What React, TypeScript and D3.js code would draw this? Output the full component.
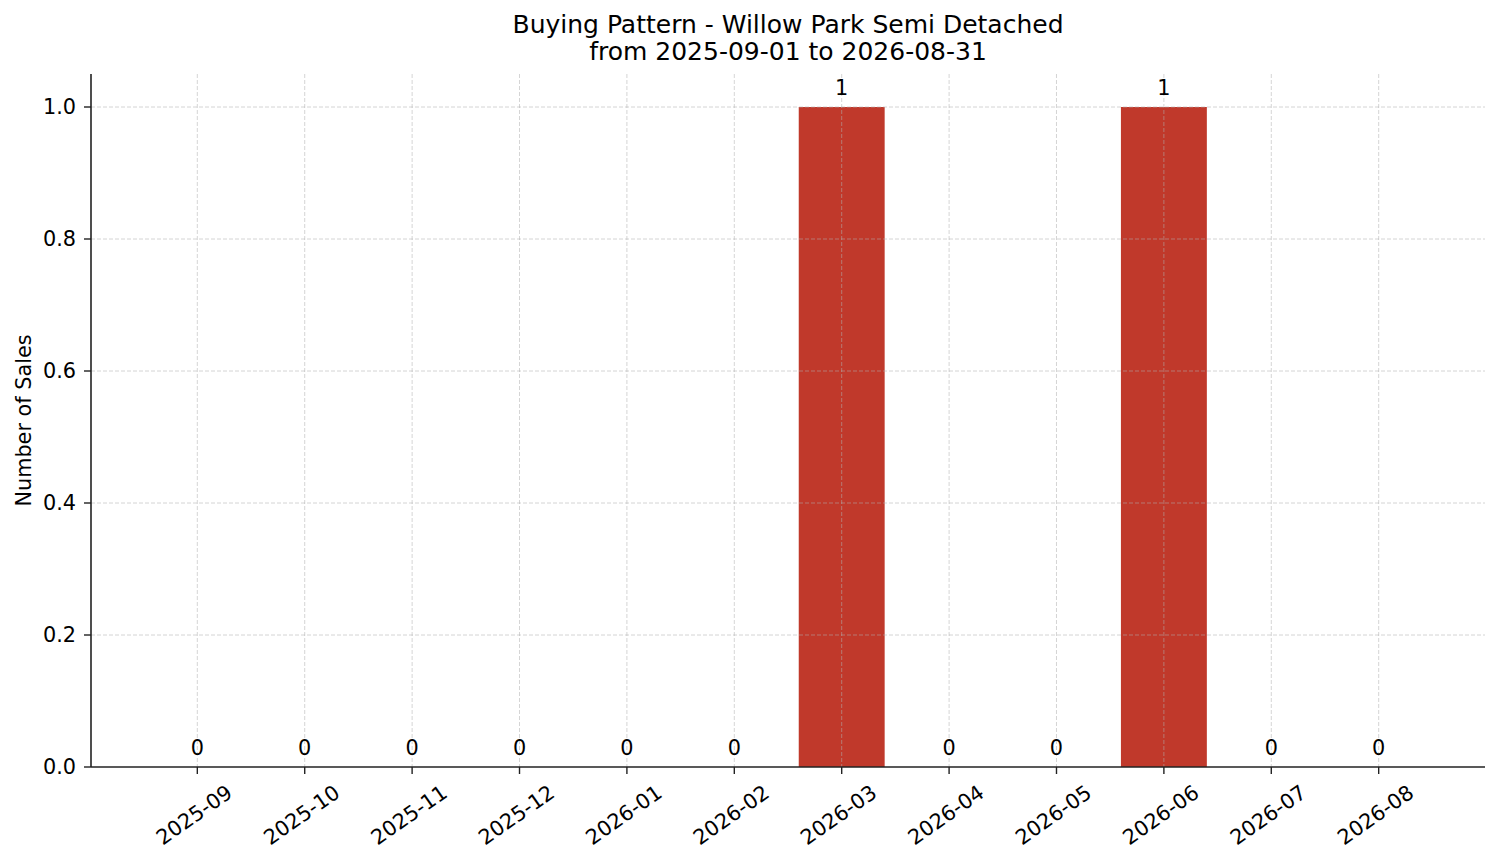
import { FC, useRef, useEffect } from 'react'
import * as d3 from 'd3'

const months = [
  '2025-09', '2025-10', '2025-11', '2025-12', '2026-01', '2026-02',
  '2026-03', '2026-04', '2026-05', '2026-06', '2026-07', '2026-08',
]
const sales = [0, 0, 0, 0, 0, 0, 1, 0, 0, 1, 0, 0]
const yTicks = [0, 0.2, 0.4, 0.6, 0.8, 1.0]
const titleLines = ['Buying Pattern - Willow Park Semi Detached', 'from 2025-09-01 to 2026-08-31']

const W = 1501
const H = 863
const FONT = 'DejaVu Sans, sans-serif'
const FS = 20.8

const App: FC = () => {
  const svgRef = useRef<SVGSVGElement>(null)

  useEffect(() => {
    if (!svgRef.current) return
    const svg = d3.select(svgRef.current)
    svg.selectAll('*').remove()

    const left = 91, right = 1485, top = 74, bottom = 767

    // matplotlib-style 5% margin around bars (-0.4 .. 11.4)
    const x = d3.scaleLinear().domain([-0.99, months.length - 0.01]).range([left, right])
    const y = d3.scaleLinear().domain([0, 1.05]).range([bottom, top])
    const bw = (x(1) - x(0)) * 0.8

    // bars
    svg.append('g').selectAll('rect')
      .data(sales)
      .join('rect')
      .attr('x', (_, i) => x(i) - bw / 2)
      .attr('y', d => y(d))
      .attr('width', bw)
      .attr('height', d => y(0) - y(d))
      .attr('fill', '#c0392b')

    // grid
    const grid = svg.append('g')
      .attr('stroke', '#b0b0b0')
      .attr('stroke-opacity', 0.6)
      .attr('stroke-width', 0.9)
      .attr('stroke-dasharray', '4,2')
    grid.selectAll('line.v')
      .data(months)
      .join('line')
      .attr('x1', (_, i) => x(i)).attr('x2', (_, i) => x(i))
      .attr('y1', top).attr('y2', bottom)
    grid.selectAll('line.h')
      .data(yTicks.slice(1))
      .join('line')
      .attr('x1', left).attr('x2', right)
      .attr('y1', d => y(d)).attr('y2', d => y(d))

    // value labels
    svg.append('g').selectAll('text')
      .data(sales)
      .join('text')
      .attr('x', (_, i) => x(i))
      .attr('y', d => y(d) - 12)
      .attr('text-anchor', 'middle')
      .attr('font-family', FONT)
      .attr('font-size', FS)
      .attr('fill', '#000')
      .text(d => d)

    // spines
    svg.append('line')
      .attr('x1', left).attr('x2', left).attr('y1', top).attr('y2', bottom)
      .attr('stroke', '#222').attr('stroke-width', 1.6)
    svg.append('line')
      .attr('x1', left).attr('x2', right).attr('y1', bottom).attr('y2', bottom)
      .attr('stroke', '#222').attr('stroke-width', 1.6)

    // y ticks
    const yt = svg.append('g')
    yt.selectAll('line')
      .data(yTicks)
      .join('line')
      .attr('x1', left - 7).attr('x2', left)
      .attr('y1', d => y(d)).attr('y2', d => y(d))
      .attr('stroke', '#222').attr('stroke-width', 1.4)
    yt.selectAll('text')
      .data(yTicks)
      .join('text')
      .attr('x', left - 15)
      .attr('y', d => y(d))
      .attr('dy', '0.36em')
      .attr('text-anchor', 'end')
      .attr('font-family', FONT)
      .attr('font-size', FS)
      .attr('fill', '#000')
      .text(d => d.toFixed(1))

    // x ticks
    const xt = svg.append('g')
    xt.selectAll('line')
      .data(months)
      .join('line')
      .attr('x1', (_, i) => x(i)).attr('x2', (_, i) => x(i))
      .attr('y1', bottom).attr('y2', bottom + 7)
      .attr('stroke', '#222').attr('stroke-width', 1.4)
    xt.selectAll('text')
      .data(months)
      .join('text')
      .attr('transform', (_, i) => `translate(${x(i) - 3},${bottom + 48}) rotate(-35)`)
      .attr('text-anchor', 'middle')
      .attr('dominant-baseline', 'central')
      .attr('font-family', FONT)
      .attr('font-size', FS)
      .attr('fill', '#000')
      .text(d => d)

    // y label
    svg.append('text')
      .attr('transform', `translate(31,${(top + bottom) / 2}) rotate(-90)`)
      .attr('text-anchor', 'middle')
      .attr('font-family', FONT)
      .attr('font-size', FS)
      .attr('fill', '#000')
      .text('Number of Sales')

    // title
    svg.append('g').selectAll('text')
      .data(titleLines)
      .join('text')
      .attr('x', (left + right) / 2)
      .attr('y', (_, i) => 33 + i * 27)
      .attr('text-anchor', 'middle')
      .attr('font-family', FONT)
      .attr('font-size', 25)
      .attr('fill', '#000')
      .text(d => d)
  }, [])

  return (
    <div style={{ margin: -8 }}>
      <svg ref={svgRef} width={W} height={H} style={{ display: 'block', background: '#fff' }} />
    </div>
  )
}

export default App
